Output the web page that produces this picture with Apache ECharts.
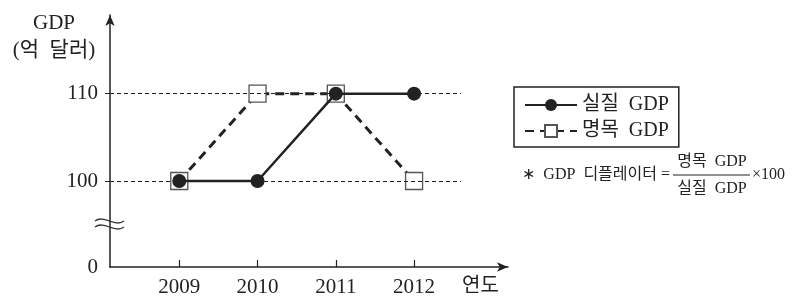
<!DOCTYPE html>
<html>
<head>
<meta charset="utf-8">
<script src="https://cdn.jsdelivr.net/npm/echarts@6/dist/echarts.min.js"></script>
<style>
html, body { margin: 0; padding: 0; background: #fff; }
#chart { width: 795px; height: 299px; }
</style>
</head>
<body>
<div id="chart"></div>
<script>
// 연도별 실질 GDP / 명목 GDP (억 달러)
const years = [2009, 2010, 2011, 2012]
const realGdp = [100, 100, 110, 110]
const nominalGdp = [100, 110, 110, 100]
const yTickValues = [0, 100, 110]
const gridValues = [100, 110]

const serif = "'Liberation Serif', 'Noto Sans CJK KR', serif"
const ink = '#222'
const xMin = 2008.115
const xMax = 2013.2
const gridEnd = 2012.6

const chart = echarts.init(document.getElementById('chart'))

const toPoints = (vals) => years.map((y, i) => [y, vals[i]])

// 축 생략 표시 (물결 두 줄)
const wave = (y) => ({
  type: 'bezierCurve',
  shape: { x1: 95, y1: y, cpx1: 104, cpy1: y - 7, cpx2: 115, cpy2: y + 7, x2: 124, y2: y },
  style: { stroke: '#333', lineWidth: 1.3, fill: null }
})

const option = {
  animation: false,
  grid: { left: 110, right: 287, top: 15, bottom: 32 },
  textStyle: { fontFamily: serif, color: ink },
  legend: {
    data: ['실질 GDP', '명목 GDP'],
    orient: 'vertical',
    left: 514,
    top: 87,
    padding: [8, 10, 6, 10],
    borderColor: ink,
    borderWidth: 1.5,
    itemGap: 6,
    itemWidth: 52,
    itemHeight: 15,
    formatter: (name) => name.replace(' ', '  '),
    textStyle: { fontFamily: serif, fontSize: 20, color: ink, lineHeight: 20 }
  },
  xAxis: {
    type: 'value',
    min: xMin,
    max: xMax,
    axisLine: {
      show: true,
      lineStyle: { color: ink, width: 1.5 },
      symbol: ['none', 'arrow'],
      symbolSize: [7, 11]
    },
    axisTick: { show: true, inside: true, length: 7, customValues: years, lineStyle: { color: ink, width: 1.2 } },
    axisLabel: {
      customValues: years,
      margin: 10,
      fontSize: 21,
      color: ink,
      fontFamily: serif,
      formatter: (v) => String(v)
    },
    splitLine: { show: false },
    name: '연도',
    nameLocation: 'end',
    nameGap: -46,
    nameTextStyle: { fontFamily: serif, fontSize: 20, color: ink, align: 'left', verticalAlign: 'top', padding: [10, 0, 0, 0] }
  },
  yAxis: {
    type: 'value',
    min: 0,
    max: 119,
    breaks: [{ start: 2, end: 98, gap: 5.84 }],
    breakArea: { show: false },
    axisLine: {
      show: true,
      breakLine: false,
      lineStyle: { color: ink, width: 1.5 },
      symbol: ['none', 'arrow'],
      symbolSize: [7, 11]
    },
    axisTick: { show: true, length: 5, customValues: gridValues, lineStyle: { color: ink, width: 1 } },
    axisLabel: {
      customValues: yTickValues,
      margin: 12,
      fontSize: 21,
      color: ink,
      fontFamily: serif,
      formatter: (v) => String(v)
    },
    splitLine: { show: false },
    name: 'GDP\n(억  달러)',
    nameLocation: 'end',
    nameGap: -49,
    nameTextStyle: { fontFamily: serif, fontSize: 21, color: ink, align: 'center', verticalAlign: 'bottom', lineHeight: 27, padding: [0, 112, 0, 0] }
  },
  series: [
    {
      // 점선 보조선 (100, 110)
      type: 'line',
      data: [],
      z: 1,
      markLine: {
        silent: true,
        symbol: 'none',
        label: { show: false },
        lineStyle: { type: [4, 3], width: 1, color: ink },
        data: gridValues.map((v) => [{ coord: [xMin, v] }, { coord: [gridEnd, v] }])
      }
    },
    {
      name: '명목 GDP',
      type: 'line',
      data: toPoints(nominalGdp),
      z: 2,
      symbol: 'rect',
      symbolSize: 17,
      itemStyle: { color: '#fff', borderColor: '#555', borderWidth: 1.3 },
      lineStyle: { color: ink, width: 3, type: [9, 6] }
    },
    {
      name: '실질 GDP',
      type: 'line',
      data: toPoints(realGdp),
      z: 3,
      symbol: 'circle',
      symbolSize: 14,
      itemStyle: { color: ink, borderColor: ink, borderWidth: 0 },
      lineStyle: { color: ink, width: 2.5 }
    }
  ],
  graphic: [
    wave(221),
    wave(227),
    {
      type: 'text',
      x: 670,
      y: 175,
      style: { text: '∗  GDP  디플레이터 =', fontSize: 16, fontFamily: serif, fill: ink, align: 'right', verticalAlign: 'middle' }
    },
    {
      type: 'text',
      x: 712,
      y: 162,
      style: { text: '명목  GDP', fontSize: 16, fontFamily: serif, fill: ink, align: 'center', verticalAlign: 'middle' }
    },
    {
      type: 'line',
      shape: { x1: 673, y1: 175, x2: 750, y2: 175 },
      style: { stroke: ink, lineWidth: 1 }
    },
    {
      type: 'text',
      x: 712,
      y: 189,
      style: { text: '실질  GDP', fontSize: 16, fontFamily: serif, fill: ink, align: 'center', verticalAlign: 'middle' }
    },
    {
      type: 'text',
      x: 752,
      y: 175,
      style: { text: '×100', fontSize: 16, fontFamily: serif, fill: ink, align: 'left', verticalAlign: 'middle' }
    }
  ]
}

chart.setOption(option)
</script>
</body>
</html>
